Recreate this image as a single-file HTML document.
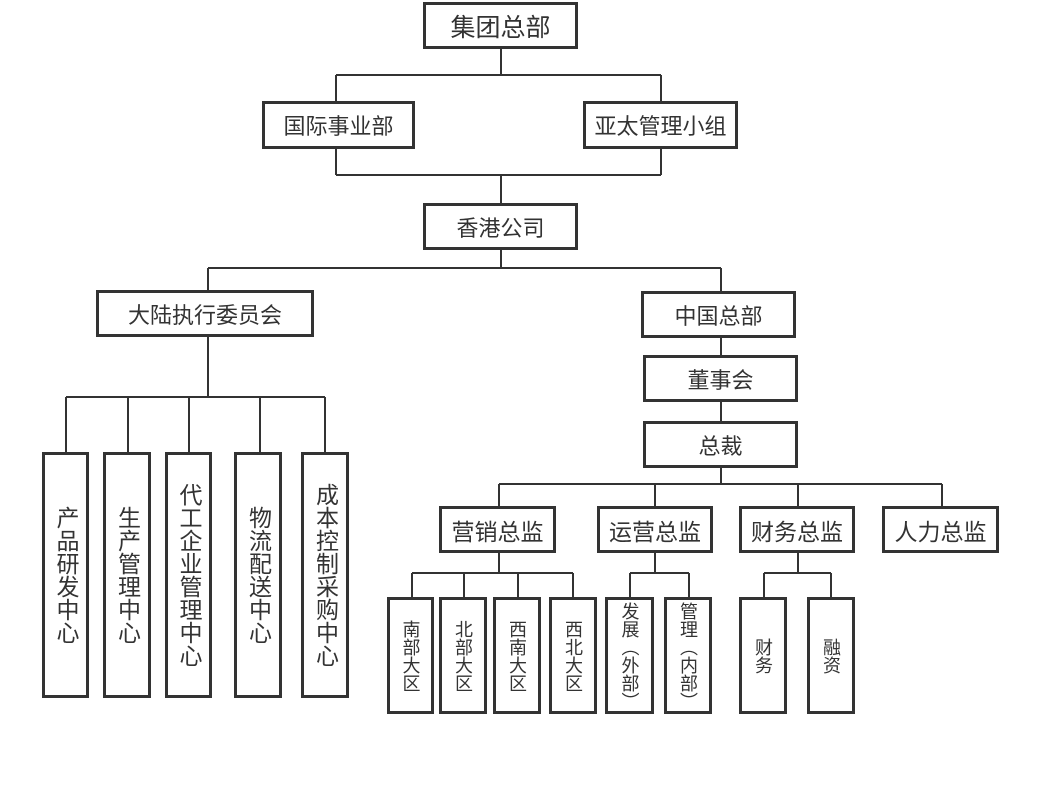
<!DOCTYPE html>
<html><head><meta charset="utf-8"><style>
body{margin:0;width:1040px;height:800px;background:#fff;position:relative;overflow:hidden;font-family:"Liberation Sans","Noto Sans CJK SC",sans-serif;color:#333}
.b{position:absolute;box-sizing:border-box;border:3px solid #333;background:#fff;display:flex;align-items:center;justify-content:center;font-size:22px;white-space:nowrap}
.v{writing-mode:vertical-rl;text-orientation:upright;font-size:23px;line-height:1}
.s{font-size:18px}
svg{position:absolute;left:0;top:0}
</style></head><body>
<svg width="1040" height="800"><g stroke="#333" stroke-width="2" fill="none">
<path d="M501 48V75M336 75H661M336 75V101M661 75V101"/>
<path d="M336 148V175M661 148V175M336 175H661M501 175V203"/>
<path d="M501 249V268M208 268H721M208 268V290M721 268V291"/>
<path d="M208 337V397M66 397H325M66 397V452M128 397V452M189 397V452M260 397V452M325 397V452"/>
<path d="M721 338V355M721 402V421M721 468V484M499 484H942M499 484V506M655 484V506M798 484V506M942 484V506"/>
<path d="M499 552V573M412 573H573M412 573V597M464 573V597M518 573V597M573 573V597"/>
<path d="M655 552V573M630 573H689M630 573V597M689 573V597"/>
<path d="M798 552V573M764 573H831M764 573V597M831 573V597"/>
</g></svg>
<div class="b" style="left:423px;top:2px;width:155px;height:47px;font-size:25px">集团总部</div>
<div class="b" style="left:262px;top:101px;width:153px;height:48px">国际事业部</div>
<div class="b" style="left:583px;top:101px;width:155px;height:48px">亚太管理小组</div>
<div class="b" style="left:423px;top:203px;width:155px;height:47px">香港公司</div>
<div class="b" style="left:96px;top:290px;width:218px;height:47px">大陆执行委员会</div>
<div class="b" style="left:641px;top:291px;width:155px;height:47px">中国总部</div>
<div class="b" style="left:643px;top:355px;width:155px;height:47px">董事会</div>
<div class="b" style="left:643px;top:421px;width:155px;height:47px">总裁</div>
<div class="b" style="left:439px;top:506px;width:117px;height:47px;font-size:23px">营销总监</div>
<div class="b" style="left:597px;top:506px;width:116px;height:47px;font-size:23px">运营总监</div>
<div class="b" style="left:739px;top:506px;width:116px;height:47px;font-size:23px">财务总监</div>
<div class="b" style="left:882px;top:506px;width:117px;height:47px;font-size:23px">人力总监</div>

<div class="b" style="left:42px;top:452px;width:47px;height:246px"><span class="v">产品研发中心</span></div>
<div class="b" style="left:103px;top:452px;width:48px;height:246px"><span class="v">生产管理中心</span></div>
<div class="b" style="left:165px;top:452px;width:47px;height:246px"><span class="v">代工企业管理中心</span></div>
<div class="b" style="left:234px;top:452px;width:48px;height:246px"><span class="v">物流配送中心</span></div>
<div class="b" style="left:301px;top:452px;width:48px;height:246px"><span class="v">成本控制采购中心</span></div>

<div class="b" style="left:387px;top:597px;width:47px;height:117px"><span class="v s">南部大区</span></div>
<div class="b" style="left:439px;top:597px;width:48px;height:117px"><span class="v s">北部大区</span></div>
<div class="b" style="left:493px;top:597px;width:48px;height:117px"><span class="v s">西南大区</span></div>
<div class="b" style="left:549px;top:597px;width:48px;height:117px"><span class="v s">西北大区</span></div>
<div class="b" style="left:605px;top:597px;width:49px;height:117px"><span class="v s">发展（外部）</span></div>
<div class="b" style="left:664px;top:597px;width:48px;height:117px"><span class="v s">管理（内部）</span></div>
<div class="b" style="left:739px;top:597px;width:48px;height:117px"><span class="v s">财务</span></div>
<div class="b" style="left:807px;top:597px;width:48px;height:117px"><span class="v s">融资</span></div>
</body></html>
